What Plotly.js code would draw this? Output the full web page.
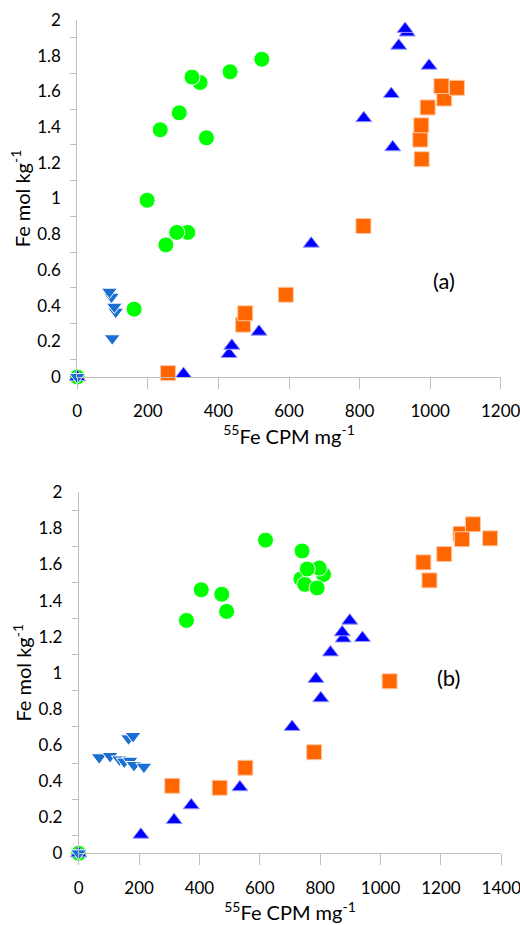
<!DOCTYPE html>
<html>
<head>
<meta charset="utf-8">
<script src="https://cdn.plot.ly/plotly-3.0.1.min.js"></script>
<style>html,body{margin:0;padding:0;background:#fff;}#chart{width:520px;height:925px;}</style>
</head>
<body>
<div id="chart"></div>
<script>
// ---- Panel (a) data ----
const aGreenX = [0, 161, 198, 251, 313, 282, 235, 289, 366, 348, 325, 433, 523];
const aGreenY = [0, 0.38, 0.99, 0.74, 0.81, 0.81, 1.385, 1.48, 1.34, 1.65, 1.68, 1.71, 1.78];
const aOrangeX = [1040, 257, 470, 476, 591, 811, 976, 972, 975, 993, 1032, 1076];
const aOrangeY = [1.56, 0.022, 0.293, 0.357, 0.461, 0.846, 1.22, 1.33, 1.41, 1.51, 1.63, 1.62];
const aUpX = [0, 301, 430, 438, 515, 663, 812, 894, 890, 997, 911, 935, 929];
const aUpY = [0, 0.017, 0.129, 0.175, 0.254, 0.747, 1.45, 1.287, 1.585, 1.744, 1.856, 1.93, 1.95];
const aDownX = [0, 99, 109, 105, 97, 91];
const aDownY = [0, 0.217, 0.366, 0.394, 0.45, 0.478];

// ---- Panel (b) data ----
const bGreenX = [0, 357, 406, 474, 490, 619, 740, 736, 749, 811, 790, 797, 757];
const bGreenY = [0, 1.29, 1.46, 1.435, 1.34, 1.735, 1.675, 1.52, 1.49, 1.545, 1.47, 1.58, 1.575];
const bOrangeX = [310, 467, 552, 780, 1030, 1162, 1142, 1211, 1265, 1270, 1363, 1306];
const bOrangeY = [0.374, 0.363, 0.474, 0.56, 0.953, 1.512, 1.612, 1.658, 1.77, 1.74, 1.745, 1.823];
const bUpX = [0, 206, 316, 373, 534, 707, 802, 786, 834, 876, 873, 940, 898];
const bUpY = [0, 0.103, 0.184, 0.266, 0.366, 0.70, 0.859, 0.966, 1.113, 1.19, 1.224, 1.193, 1.289];
const bDownX = [0, 68, 104, 135, 151, 170, 183, 216, 165, 180];
const bDownY = [0, 0.532, 0.539, 0.52, 0.508, 0.513, 0.489, 0.48, 0.637, 0.65];

const panelLabels = ['(a)', '(b)'];
const xTitle = '<sup>55</sup>Fe CPM mg<sup>-1</sup>';
const yTitle = 'Fe mol kg<sup>-1</sup>';

const FONT = 'Lato, Carlito, Calibri, "Open Sans", sans-serif';
const styles = {
  green:  {symbol: 'circle', size: 16, color: '#00FF00', line: {color: '#FFFFFF', width: 1}},
  orange: {symbol: 'square', size: 15, color: '#FF6600', line: {color: '#FFC9A6', width: 1}},
  up:     {symbol: 'triangle-up', size: 14, color: '#0000FF', line: {color: '#9A9AFF', width: 1}},
  down:   {symbol: 'triangle-down', size: 14, color: '#1B6FD3', line: {color: '#FFFFFF', width: 1}}
};
function tr(x, y, st, xa, ya) {
  return {type: 'scatter', mode: 'markers', x: x, y: y, xaxis: xa, yaxis: ya,
          marker: st, showlegend: false, hoverinfo: 'x+y', cliponaxis: false};
}
const data = [
  tr(aGreenX, aGreenY, styles.green, 'x', 'y'),
  tr(aOrangeX, aOrangeY, styles.orange, 'x', 'y'),
  tr(aUpX, aUpY, styles.up, 'x', 'y'),
  tr(aDownX, aDownY, styles.down, 'x', 'y'),
  tr(bGreenX, bGreenY, styles.green, 'x2', 'y2'),
  tr(bOrangeX, bOrangeY, styles.orange, 'x2', 'y2'),
  tr(bUpX, bUpY, styles.up, 'x2', 'y2'),
  tr(bDownX, bDownY, styles.down, 'x2', 'y2')
];

const AX = '#BFBFBF';
function xax(domain, maxV, anchor) {
  return {domain: domain, range: [0, maxV], dtick: 200, tick0: 0, anchor: anchor,
    showgrid: false, zeroline: false, showline: true, linecolor: AX, linewidth: 1,
    ticks: 'outside', ticklen: 11, tickcolor: AX, tickwidth: 1,
    ticklabelstandoff: 8, ticklabeloverflow: 'allow',
    tickfont: {family: FONT, size: 17, color: '#000'},
    title: {text: xTitle, font: {family: FONT, size: 20, color: '#000'}, standoff: 4},
    fixedrange: true};
}
function yax(domain, anchor) {
  return {domain: domain, range: [0, 2], dtick: 0.2, tick0: 0, anchor: anchor,
    showgrid: false, zeroline: false, showline: true, linecolor: AX, linewidth: 1,
    ticks: '', ticklabelstandoff: 12, ticklabeloverflow: 'allow',
    minor: {ticks: 'outside', tick0: 0.1, dtick: 0.2, ticklen: 6, tickcolor: AX, tickwidth: 1, showgrid: false},
    tickfont: {family: FONT, size: 17, color: '#000'},
    title: {text: yTitle, font: {family: FONT, size: 20, color: '#000'}, standoff: 1},
    fixedrange: true};
}

const layout = {
  width: 520, height: 925,
  margin: {l: 0, r: 0, t: 0, b: 0},
  paper_bgcolor: '#fff', plot_bgcolor: '#fff',
  font: {family: FONT, color: '#000'},
  xaxis: xax([77.3/520, 500.7/520], 1200, 'y'),
  yaxis: yax([(925-377)/925, (925-20)/925], 'x'),
  xaxis2: xax([78.7/520, 501.3/520], 1400, 'y2'),
  yaxis2: yax([(925-853.3)/925, (925-492.3)/925], 'x2'),
  annotations: [
    {xref: 'paper', yref: 'paper', x: 456.7/520, y: (925-265)/925, text: panelLabels[0], showarrow: false,
     font: {family: FONT, size: 22, color: '#000'}},
    {xref: 'paper', yref: 'paper', x: 461.7/520, y: (925-693.3)/925, text: panelLabels[1], showarrow: false,
     font: {family: FONT, size: 22, color: '#000'}}
  ],
  showlegend: false
};
Plotly.newPlot('chart', data, layout, {displayModeBar: false, staticPlot: true});
</script>
</body>
</html>
